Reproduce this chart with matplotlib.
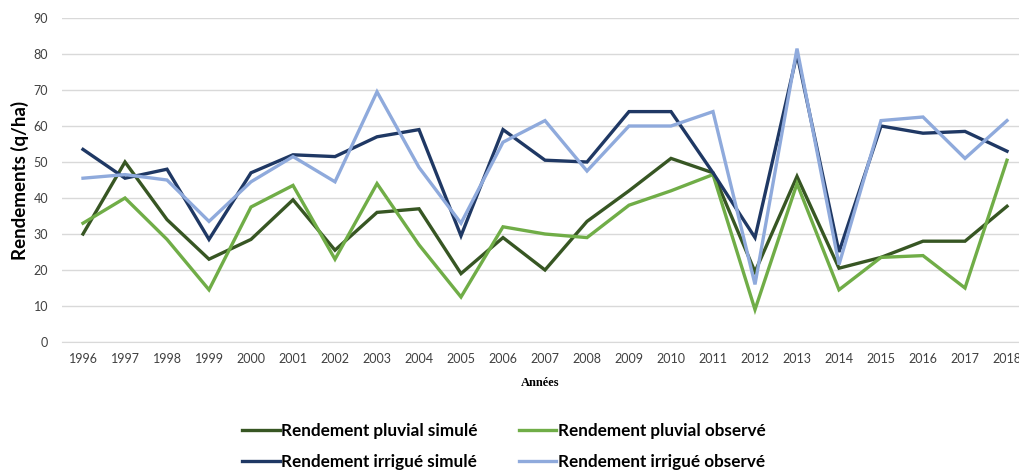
import numpy as np
import matplotlib as mpl
import matplotlib.pyplot as plt

mpl.rcParams['font.family'] = ['Lato', 'DejaVu Sans']

#---------------------------------------------------------------------------------------------------
# Data
#---------------------------------------------------------------------------------------------------

years = [str(y) for y in range(1996, 2019)]

pluvial_sim = [30, 50, 34, 23, 28.5, 39.5, 25.5, 36, 37, 19, 29, 20, 33.5, 42, 51, 47,
               19.5, 46, 20.5, 23.5, 28, 28, 37.7]
pluvial_obs = [33, 40, 28.5, 14.5, 37.5, 43.5, 23, 44, 27, 12.5, 32, 30, 29, 38, 42, 46.5,
               9, 44, 14.5, 23.5, 24, 15, 50.5]
irrigue_sim = [53.5, 45.5, 48, 28.5, 47, 52, 51.5, 57, 59, 29.5, 59, 50.5, 50, 64, 64, 47,
               29, 80, 25, 60, 58, 58.5, 53]
irrigue_obs = [45.5, 46.5, 45, 33.5, 44.5, 51.5, 44.5, 69.5, 48.5, 33, 55.5, 61.5, 47.5, 60,
               60, 64, 16, 81.5, 21.5, 61.5, 62.5, 51, 61.5]

labels = ['Rendement pluvial simulé', 'Rendement pluvial observé',
          'Rendement irrigué simulé', 'Rendement irrigué observé']
colors = ['#375623', '#70AD47', '#1F3864', '#8FAADC']

#---------------------------------------------------------------------------------------------------
# Plot
#---------------------------------------------------------------------------------------------------

W, H = 1020, 470
fig = plt.figure(figsize=(W / 100, H / 100), dpi=100)
# axes in pixel coords: left 62, right 1028 (cropped), y 0 -> 342, 90 -> 18
ax = fig.add_axes([62 / W, (H - 342) / H, (1028 - 62) / W, (342 - 18) / H])

x = np.arange(len(years))
series = [pluvial_sim, pluvial_obs, irrigue_sim, irrigue_obs]
# draw light ones under dark ones like the reference
order = [1, 3, 0, 2]
handles = [None] * 4
for i in order:
    ln, = ax.plot(x, series[i], color=colors[i], lw=2.4, solid_joinstyle='miter',
                  label=labels[i], zorder=3 + i)
    handles[i] = ln

ax.set_xlim(-0.5, len(years) - 0.5)
ax.set_ylim(0, 90)
ax.set_yticks(np.arange(0, 91, 10))
ax.set_xticks(x)
ax.set_xticklabels(years)
ax.grid(axis='y', color='#d9d9d9', lw=1)
ax.set_axisbelow(True)
for s in ['top', 'right', 'left']:
    ax.spines[s].set_visible(False)
ax.spines['bottom'].set_color('#d9d9d9')
ax.tick_params(axis='both', length=0, labelsize=9, colors='#404040')
ax.tick_params(axis='x', pad=8)
ax.tick_params(axis='y', pad=10)

fig.text(20 / W, 1 - 180 / H, 'Rendements (q/ha)', rotation=90, ha='center', va='center',
         fontsize=13.5, fontweight='bold', color='black')
fig.text(540 / W, 1 - 383 / H, 'Années', ha='center', va='center', fontsize=9,
         fontweight='bold', family='Liberation Serif', color='black')

# legend filled column-wise: reorder so rows read pluvial / irrigué
leg_order = [0, 2, 1, 3]
leg = fig.legend([handles[i] for i in leg_order], [labels[i] for i in leg_order], ncol=2,
                 loc='upper left', bbox_to_anchor=(242 / W, 1 - 423 / H),
                 frameon=False, fontsize=12.3, handlelength=2.2, handletextpad=0.1,
                 columnspacing=2.4, labelspacing=0.9, borderaxespad=0, borderpad=0)
for t in leg.get_texts():
    t.set_fontweight('bold')

fig.savefig('out.png', dpi=100)
